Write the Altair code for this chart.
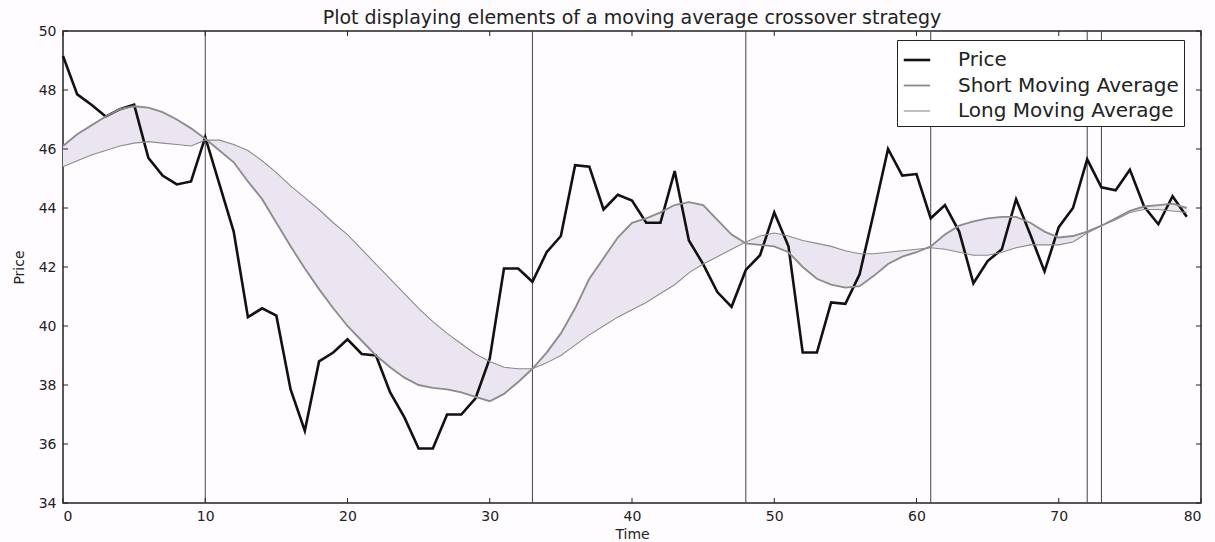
import altair as alt
import pandas as pd

# Daily closing price and the two moving averages, one value per time step
time = list(range(80))

price = [
    49.15, 47.85, 47.5, 47.1, 47.35, 47.5, 45.7, 45.1, 44.8, 44.9,
    46.4, 44.8, 43.2, 40.3, 40.6, 40.35, 37.85, 36.45, 38.8, 39.1,
    39.55, 39.05, 39.0, 37.75, 36.9, 35.85, 35.85, 37.0, 37.0, 37.55,
    38.9, 41.95, 41.95, 41.5, 42.5, 43.05, 45.45, 45.4, 43.95, 44.45,
    44.25, 43.5, 43.5, 45.25, 42.9, 42.1, 41.15, 40.65, 41.9, 42.4,
    43.85, 42.7, 39.1, 39.1, 40.8, 40.75, 41.75, 43.85, 46.0, 45.1,
    45.15, 43.65, 44.1, 43.2, 41.45, 42.2, 42.6, 44.3, 43.1, 41.85,
    43.35, 44.0, 45.65, 44.7, 44.6, 45.3, 44.05, 43.45, 44.4, 43.7,
]

short_ma = [
    46.1, 46.5, 46.8, 47.1, 47.35, 47.45, 47.4, 47.25, 47.0, 46.7,
    46.35, 45.95, 45.55, 44.9, 44.3, 43.5, 42.7, 41.95, 41.25, 40.6,
    40.0, 39.5, 39.0, 38.6, 38.25, 38.0, 37.9, 37.85, 37.75, 37.6,
    37.45, 37.7, 38.1, 38.55, 39.1, 39.75, 40.6, 41.6, 42.3, 43.0,
    43.5, 43.65, 43.85, 44.1, 44.2, 44.1, 43.6, 43.1, 42.8, 42.75,
    42.7, 42.5, 42.0, 41.6, 41.4, 41.3, 41.35, 41.7, 42.1, 42.35,
    42.5, 42.7, 43.1, 43.4, 43.55, 43.65, 43.7, 43.7, 43.5, 43.2,
    43.0, 43.05, 43.2, 43.4, 43.65, 43.9, 44.05, 44.1, 44.15, 44.0,
]

long_ma = [
    45.4, 45.6, 45.8, 45.95, 46.1, 46.2, 46.25, 46.2, 46.15, 46.1,
    46.3, 46.3, 46.15, 45.95, 45.6, 45.2, 44.75, 44.35, 43.95, 43.5,
    43.1, 42.6, 42.1, 41.6, 41.1, 40.6, 40.15, 39.75, 39.4, 39.05,
    38.8, 38.6, 38.55, 38.55, 38.75, 39.0, 39.35, 39.7, 40.0, 40.3,
    40.55, 40.8, 41.1, 41.4, 41.8, 42.1, 42.35, 42.6, 42.85, 43.05,
    43.15, 43.05, 42.9, 42.8, 42.7, 42.55, 42.45, 42.45, 42.5, 42.55,
    42.6, 42.65, 42.6, 42.5, 42.4, 42.4, 42.5, 42.65, 42.75, 42.75,
    42.75, 42.85, 43.15, 43.4, 43.6, 43.85, 43.95, 43.95, 43.9, 43.85,
]

# Time steps where the two averages cross
crossovers = [10, 33, 48, 61, 72, 73]

x_ticks = [0, 10, 20, 30, 40, 50, 60, 70, 80]
y_ticks = [34, 36, 38, 40, 42, 44, 46, 48, 50]

series_names = ["Price", "Short Moving Average", "Long Moving Average"]
series_colors = ["#111111", "#8c8c8c", "#8c8c8c"]
series_widths = [2.6, 1.1, 1.1]

W, H = 1138, 472
FONT = "DejaVu Sans"
INK = "#222222"

rows = []
for name, values in zip(series_names, (price, short_ma, long_ma)):
    for t, v in zip(time, values):
        rows.append({"Time": t, "Value": v, "Series": name})
lines_df = pd.DataFrame(rows)
band_df = pd.DataFrame({"Time": time, "Short": short_ma, "Long": long_ma})
signal_df = pd.DataFrame({"Time": crossovers})
xtick_df = pd.DataFrame({"Time": x_ticks})
ytick_df = pd.DataFrame({"Value": y_ticks})

x_scale = alt.Scale(domain=[0, 80], nice=False, zero=False)
y_scale = alt.Scale(domain=[34, 50], nice=False, zero=False)

x_axis = alt.Axis(
    values=x_ticks, format="d", title="Time", grid=False, domain=False,
    tickSize=0, labelPadding=6, labelFont=FONT, labelFontSize=14,
    labelColor=INK, titleFont=FONT, titleFontSize=14, titleFontWeight="normal",
    titleColor=INK, titlePadding=4,
)
y_axis = alt.Axis(
    values=y_ticks, format="d", title="Price", grid=False, domain=False,
    tickSize=0, labelPadding=7, labelFont=FONT, labelFontSize=14,
    labelColor=INK, titleFont=FONT, titleFontSize=14, titleFontWeight="normal",
    titleColor=INK, titlePadding=12,
)

# Shaded region between the short and long averages
band = alt.Chart(band_df).mark_area(color="#ebe5f2", opacity=1).encode(
    x=alt.X("Time:Q", scale=x_scale, axis=x_axis),
    y=alt.Y("Long:Q", scale=y_scale, axis=y_axis),
    y2="Short:Q",
)

# Vertical markers at each crossover
signals = alt.Chart(signal_df).mark_rule(color="#454545", strokeWidth=1).encode(
    x=alt.X("Time:Q", scale=x_scale)
)

legend = alt.Legend(
    title=None, orient="none", legendX=834, legendY=9,
    padding=5, strokeColor=INK, fillColor="white", cornerRadius=0,
    symbolType="stroke", symbolSize=700, labelFont=FONT, labelFontSize=20,
    labelColor=INK, labelOffset=26, rowPadding=1, labelLimit=0,
)

lines = alt.Chart(lines_df).mark_line().encode(
    x=alt.X("Time:Q", scale=x_scale),
    y=alt.Y("Value:Q", scale=y_scale),
    color=alt.Color(
        "Series:N", sort=series_names,
        scale=alt.Scale(domain=series_names, range=series_colors), legend=legend,
    ),
    strokeWidth=alt.StrokeWidth(
        "Series:N", sort=series_names,
        scale=alt.Scale(domain=series_names, range=series_widths), legend=legend,
    ),
    order=alt.Order("Time:Q"),
)

# Inward-pointing tick marks on all four sides of the frame
tick_len = 5
bottom_ticks = alt.Chart(xtick_df).mark_rule(color=INK).encode(
    x=alt.X("Time:Q", scale=x_scale), y=alt.value(H), y2=alt.value(H - tick_len)
)
top_ticks = alt.Chart(xtick_df).mark_rule(color=INK).encode(
    x=alt.X("Time:Q", scale=x_scale), y=alt.value(0), y2=alt.value(tick_len)
)
left_ticks = alt.Chart(ytick_df).mark_rule(color=INK).encode(
    y=alt.Y("Value:Q", scale=y_scale), x=alt.value(0), x2=alt.value(tick_len)
)
right_ticks = alt.Chart(ytick_df).mark_rule(color=INK).encode(
    y=alt.Y("Value:Q", scale=y_scale), x=alt.value(W), x2=alt.value(W - tick_len)
)

chart = (
    alt.layer(band, signals, lines, bottom_ticks, top_ticks, left_ticks, right_ticks)
    .properties(
        width=W,
        height=H,
        title=alt.TitleParams(
            "Plot displaying elements of a moving average crossover strategy",
            font=FONT, fontSize=19, fontWeight="normal", color=INK,
            anchor="middle", offset=-4,
        ),
        autosize=alt.AutoSizeParams(type="none"),
        padding={"left": 63, "top": 31, "right": 14, "bottom": 39},
        background="#fefcfe",
    )
    .configure_view(stroke=INK, strokeWidth=1.5)
)

chart.save("out.html", embed_options={"renderer": "svg", "actions": False})
